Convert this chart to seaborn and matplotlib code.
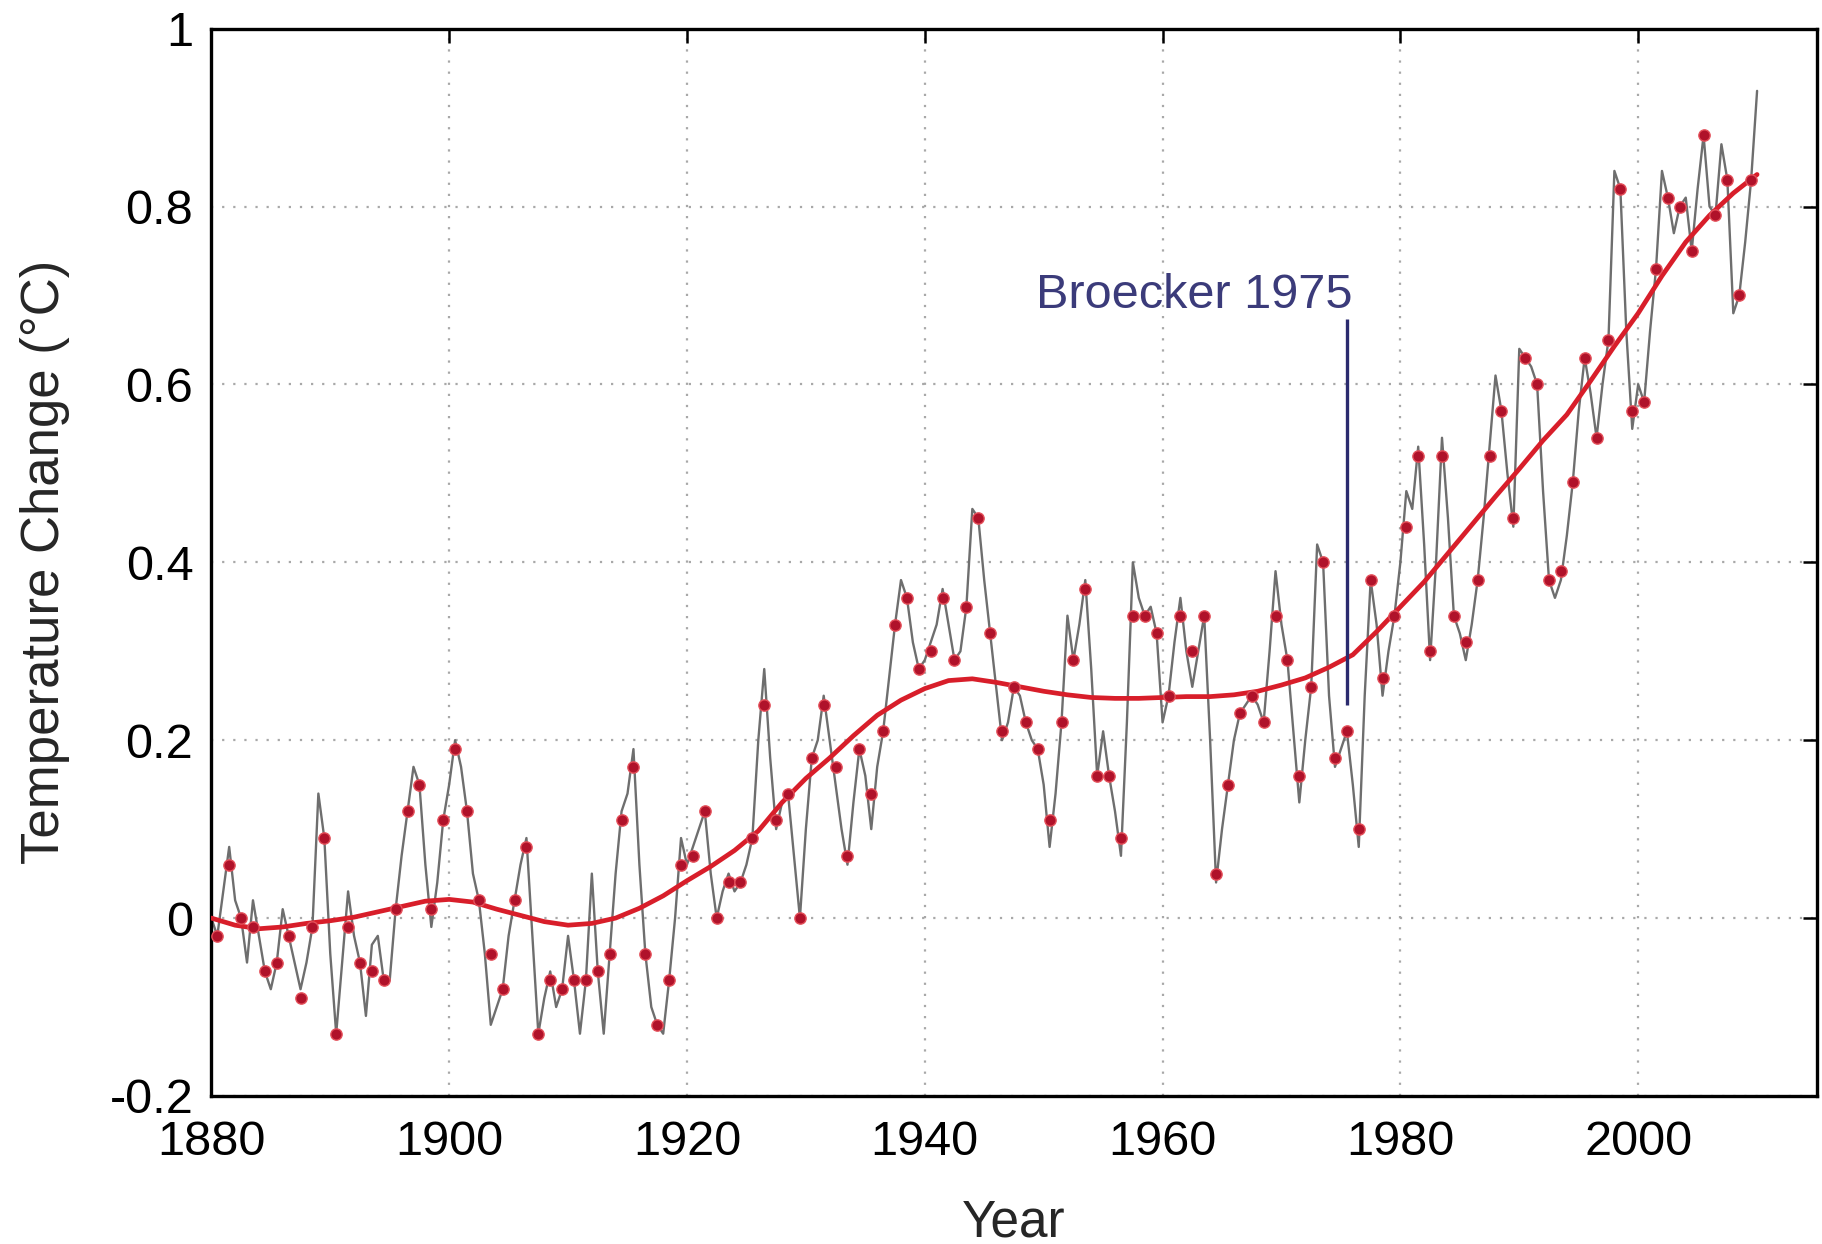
import numpy as np
import pandas as pd
import seaborn as sns
import matplotlib
matplotlib.use('Agg')
import matplotlib.pyplot as plt

# annual mean anomalies (red dots), 1880-2009
years = list(range(1880, 2010))
annual = [
    -0.02, 0.06, 0.00, -0.01, -0.06, -0.05, -0.02, -0.09, -0.01, 0.09,
    -0.13, -0.01, -0.05, -0.06, -0.07, 0.01, 0.12, 0.15, 0.01, 0.11,
    0.19, 0.12, 0.02, -0.04, -0.08, 0.02, 0.08, -0.13, -0.07, -0.08,
    -0.07, -0.07, -0.06, -0.04, 0.11, 0.17, -0.04, -0.12, -0.07, 0.06,
    0.07, 0.12, 0.00, 0.04, 0.04, 0.09, 0.24, 0.11, 0.14, 0.00,
    0.18, 0.24, 0.17, 0.07, 0.19, 0.14, 0.21, 0.33, 0.36, 0.28,
    0.30, 0.36, 0.29, 0.35, 0.45, 0.32, 0.21, 0.26, 0.22, 0.19,
    0.11, 0.22, 0.29, 0.37, 0.16, 0.16, 0.09, 0.34, 0.34, 0.32,
    0.25, 0.34, 0.30, 0.34, 0.05, 0.15, 0.23, 0.25, 0.22, 0.34,
    0.29, 0.16, 0.26, 0.40, 0.18, 0.21, 0.10, 0.38, 0.27, 0.34,
    0.44, 0.52, 0.30, 0.52, 0.34, 0.31, 0.38, 0.52, 0.57, 0.45,
    0.63, 0.60, 0.38, 0.39, 0.49, 0.63, 0.54, 0.65, 0.82, 0.57,
    0.58, 0.73, 0.81, 0.80, 0.75, 0.88, 0.79, 0.83, 0.70, 0.83,
]

# sub-annual series (grey line), every half year from 1880.0 to 2010.0
half_years = [1880 + 0.5 * i for i in range(261)]
sub_annual = [
    0.00, -0.02, 0.03, 0.08, 0.02, 0.00, -0.05, 0.02, -0.02, -0.06,
    -0.08, -0.05, 0.01, -0.02, -0.05, -0.08, -0.05, -0.01, 0.14, 0.09,
    -0.04, -0.13, -0.05, 0.03, -0.02, -0.05, -0.11, -0.03, -0.02, -0.07,
    -0.07, 0.01, 0.07, 0.12, 0.17, 0.15, 0.06, -0.01, 0.04, 0.11,
    0.15, 0.20, 0.17, 0.12, 0.05, 0.02, -0.04, -0.12, -0.10, -0.08,
    -0.02, 0.02, 0.06, 0.09, -0.02, -0.13, -0.09, -0.06, -0.10, -0.08,
    -0.02, -0.07, -0.13, -0.07, 0.05, -0.06, -0.13, -0.04, 0.05, 0.12,
    0.14, 0.19, 0.06, -0.04, -0.10, -0.12, -0.13, -0.07, 0.00, 0.09,
    0.06, 0.08, 0.10, 0.12, 0.05, 0.00, 0.03, 0.05, 0.03, 0.04,
    0.06, 0.09, 0.20, 0.28, 0.18, 0.10, 0.13, 0.14, 0.07, 0.00,
    0.10, 0.18, 0.20, 0.25, 0.20, 0.15, 0.10, 0.06, 0.13, 0.19,
    0.16, 0.10, 0.17, 0.21, 0.27, 0.33, 0.38, 0.36, 0.31, 0.28,
    0.29, 0.31, 0.33, 0.37, 0.33, 0.29, 0.30, 0.35, 0.46, 0.45,
    0.38, 0.32, 0.26, 0.20, 0.22, 0.26, 0.25, 0.22, 0.20, 0.19,
    0.15, 0.08, 0.14, 0.22, 0.34, 0.29, 0.33, 0.38, 0.28, 0.16,
    0.21, 0.16, 0.12, 0.07, 0.22, 0.40, 0.36, 0.34, 0.35, 0.32,
    0.22, 0.25, 0.31, 0.36, 0.30, 0.26, 0.30, 0.34, 0.20, 0.04,
    0.10, 0.15, 0.20, 0.23, 0.24, 0.25, 0.24, 0.22, 0.30, 0.39,
    0.33, 0.29, 0.21, 0.13, 0.20, 0.26, 0.42, 0.40, 0.25, 0.17,
    0.19, 0.21, 0.15, 0.08, 0.25, 0.38, 0.33, 0.25, 0.30, 0.34,
    0.40, 0.48, 0.46, 0.53, 0.42, 0.29, 0.40, 0.54, 0.45, 0.34,
    0.32, 0.29, 0.33, 0.38, 0.45, 0.53, 0.61, 0.57, 0.50, 0.44,
    0.64, 0.63, 0.62, 0.60, 0.48, 0.38, 0.36, 0.38, 0.43, 0.49,
    0.57, 0.63, 0.59, 0.54, 0.60, 0.65, 0.84, 0.82, 0.66, 0.55,
    0.60, 0.58, 0.66, 0.73, 0.84, 0.81, 0.77, 0.80, 0.81, 0.75,
    0.82, 0.88, 0.80, 0.79, 0.87, 0.83, 0.68, 0.70, 0.76, 0.83,
    0.93,
]

# smoothed trend (red curve), every two years
trend_years = list(range(1880, 2012, 2))
trend = [
    0.000, -0.008, -0.012, -0.010, -0.006, -0.003, 0.001, 0.007, 0.013, 0.019,
    0.021, 0.018, 0.010, 0.003, -0.004, -0.008, -0.006, 0.000, 0.011, 0.025,
    0.042, 0.058, 0.076, 0.098, 0.130, 0.157, 0.180, 0.205, 0.228, 0.245,
    0.258, 0.267, 0.269, 0.265, 0.260, 0.255, 0.251, 0.248, 0.247, 0.247,
    0.248, 0.249, 0.249, 0.251, 0.255, 0.262, 0.270, 0.282, 0.296, 0.322,
    0.350, 0.378, 0.410, 0.442, 0.474, 0.505, 0.537, 0.566, 0.604, 0.643,
    0.680, 0.722, 0.760, 0.790, 0.815, 0.836,
]

# annotation
note_text = 'Broecker 1975'
note_year = 1975.5
note_bottom, note_top = 0.24, 0.673

df_annual = pd.DataFrame({'year': np.array(years) + 0.5, 'temp': annual})
df_sub = pd.DataFrame({'year': half_years, 'temp': sub_annual})
df_trend = pd.DataFrame({'year': trend_years, 'temp': trend})

sns.set_style('white')
plt.rcParams['font.family'] = ['Liberation Sans', 'DejaVu Sans']

fig = plt.figure(figsize=(18.22, 12.44), dpi=100)
ax = fig.add_axes([0.116, 0.119, 0.881, 0.858])

sns.lineplot(data=df_sub, x='year', y='temp', ax=ax, color='#6e6e6e', lw=1.7, zorder=2)
sns.lineplot(data=df_trend, x='year', y='temp', ax=ax, color='#d81e2a', lw=3.4, zorder=3)
sns.scatterplot(data=df_annual, x='year', y='temp', ax=ax, color='#b0122a', s=66,
                edgecolor='#e4505a', linewidth=1.0, zorder=4)

ax.vlines(note_year, note_bottom, note_top, color='#2b2b6e', lw=2.4, zorder=5)
ax.text(note_year + 0.5, note_top + 0.013, note_text, color='#3b3b7a', fontsize=35,
        ha='right', va='baseline', zorder=6)

ax.set_xlim(1880, 2015)
ax.set_ylim(-0.2, 1.0)
ax.set_xticks(range(1880, 2001, 20))
yt = [-0.2, 0, 0.2, 0.4, 0.6, 0.8, 1.0]
ax.set_yticks(yt)
ax.set_yticklabels(['-0.2', '0', '0.2', '0.4', '0.6', '0.8', '1'])
ax.grid(True, color='#a8a8a8', linestyle=(0, (1, 4)), lw=1.6)
ax.tick_params(direction='in', length=10, width=1.8, labelsize=35, colors='black',
               top=True, right=True)
ax.tick_params(axis='x', pad=17)
ax.tick_params(axis='y', pad=13)
for sp in ax.spines.values():
    sp.set_color('black')
    sp.set_linewidth(2.4)

ax.set_xlabel('Year', fontsize=37)
ax.set_ylabel('Temperature Change (°C)', fontsize=38)
ax.xaxis.set_label_coords(0.5, -0.096)
ax.yaxis.set_label_coords(-0.088, 0.5)

fig.savefig('out.png', dpi=100)
